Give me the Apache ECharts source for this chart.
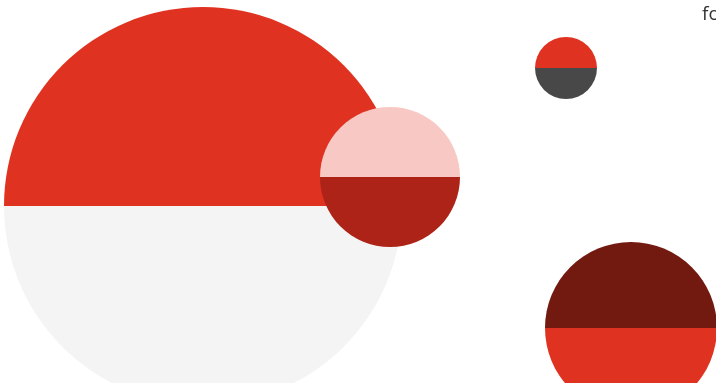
<!DOCTYPE html>
<html>
<head>
<meta charset="utf-8">
<script src="https://cdn.jsdelivr.net/npm/echarts@6/dist/echarts.min.js"></script>
<style>
html, body { margin: 0; padding: 0; background: #fff; }
#chart { width: 716px; height: 383px; }
</style>
</head>
<body>
<div id="chart"></div>
<script>
var myChart = echarts.init(document.getElementById('chart'));

// each bubble is split into two halves: top value, bottom value
var bigValues = [50, 50];
var midValues = [50, 50];
var smallValues = [50, 50];
var lowValues = [50, 50];
var halfNames = ['top', 'bottom'];
var titleText = 'fo';

function halves(values, colors) {
    return values.map(function (v, i) {
        return { value: v, name: halfNames[i], itemStyle: { color: colors[i] } };
    });
}

function bubble(center, r, values, colors) {
    return {
        type: 'pie',
        center: center,
        radius: [0, r],
        startAngle: 180,
        clockwise: true,
        silent: true,
        animation: false,
        label: { show: false },
        labelLine: { show: false },
        itemStyle: { borderWidth: 0 },
        data: halves(values, colors)
    };
}

option = {
    backgroundColor: '#fff',
    title: {
        text: titleText,
        left: 702,
        top: 5,
        padding: 0,
        textStyle: {
            fontFamily: 'Open Sans',
            fontSize: 19,
            fontWeight: 'normal',
            color: '#333'
        }
    },
    series: [
        bubble([203, 206], 199, bigValues, ['#e03220', '#f4f4f4']),
        bubble([390, 177], 70, midValues, ['#f7c8c4', '#ad2318']),
        bubble([566, 68], 31, smallValues, ['#e03220', '#484848']),
        bubble([631, 328], 86, lowValues, ['#721a0f', '#e03220'])
    ]
};
myChart.setOption(option);
</script>
</body>
</html>
